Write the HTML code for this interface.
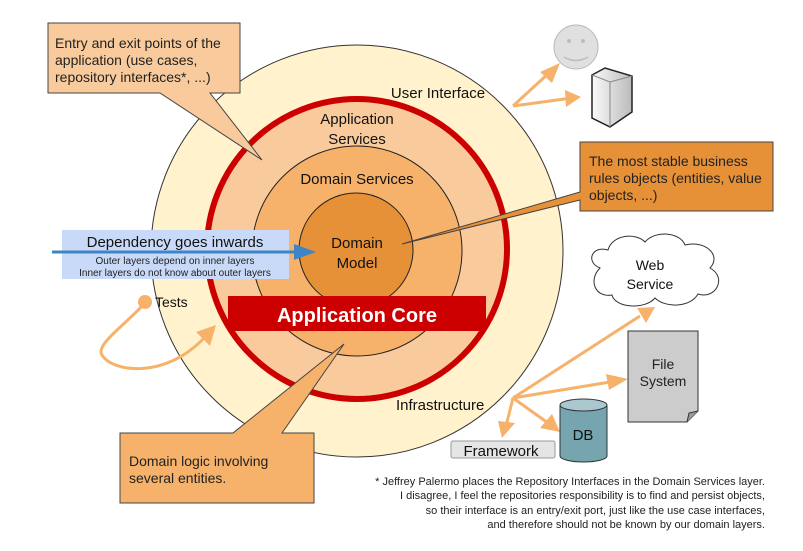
<!DOCTYPE html>
<html><head><meta charset="utf-8"><style>
html,body{margin:0;padding:0;background:#fff;}
svg{display:block;font-family:"Liberation Sans",Arial,sans-serif;}
</style></head><body>
<svg width="803" height="551" viewBox="0 0 803 551">
<defs>
<linearGradient id="sv" x1="0" x2="1"><stop offset="0" stop-color="#fafafa"/><stop offset="1" stop-color="#bbb"/></linearGradient>
</defs>
<circle cx="357" cy="251" r="206" fill="#fff2cc" stroke="#333" stroke-width="1"/>
<circle cx="357" cy="249" r="150" fill="#f9cb9c" stroke="#cc0000" stroke-width="6"/>
<circle cx="357" cy="251" r="105" fill="#f6b26b" stroke="#222" stroke-width="1"/>
<circle cx="356" cy="250" r="57" fill="#e69138" stroke="#222" stroke-width="1"/>

<text x="438" y="98" font-size="15" text-anchor="middle" fill="#111">User Interface</text>
<text x="357" y="124" font-size="15" text-anchor="middle" fill="#111">Application</text>
<text x="357" y="144" font-size="15" text-anchor="middle" fill="#111">Services</text>
<text x="357" y="184" font-size="15" text-anchor="middle" fill="#111">Domain Services</text>
<text x="357" y="248" font-size="15" text-anchor="middle" fill="#111">Domain</text>
<text x="357" y="268" font-size="15" text-anchor="middle" fill="#111">Model</text>
<text x="396" y="410" font-size="15" fill="#111">Infrastructure</text>

<rect x="228" y="296" width="258" height="35" fill="#cc0000"/>
<text x="357" y="322" font-size="20" font-weight="bold" text-anchor="middle" fill="#fff">Application Core</text>

<path d="M48,23 H240 V93 H210 L262,160 L160,93 H48 Z" fill="#f9cb9c" stroke="#444" stroke-width="1"/>
<text font-size="14" fill="#222"><tspan x="55" y="48">Entry and exit points of the</tspan><tspan x="55" y="65">application (use cases,</tspan><tspan x="55" y="82">repository interfaces*, ...)</tspan></text>

<path d="M580,142 H773 V211 H580 V200 L402,244 L580,192 Z" fill="#e69138" stroke="#444" stroke-width="1"/>
<text font-size="14" fill="#222"><tspan x="589" y="166">The most stable business</tspan><tspan x="589" y="183">rules objects (entities, value</tspan><tspan x="589" y="200">objects, ...)</tspan></text>

<path d="M120,433 H233 L344,344 L282,433 H314 V503 H120 Z" fill="#f6b26b" stroke="#444" stroke-width="1"/>
<text font-size="14" fill="#222"><tspan x="129" y="466">Domain logic involving</tspan><tspan x="129" y="483">several entities.</tspan></text>

<rect x="62" y="230" width="227" height="49" fill="#c9daf8"/>
<text x="175" y="247" font-size="15" text-anchor="middle" fill="#111">Dependency goes inwards</text>
<line x1="52" y1="252" x2="296" y2="252" stroke="#3d85c6" stroke-width="3"/>
<path d="M294,244 L316,252 L294,260 Z" fill="#3d85c6"/>
<text x="175" y="264" font-size="10" text-anchor="middle" fill="#222">Outer layers depend on inner layers</text>
<text x="175" y="276" font-size="10" text-anchor="middle" fill="#222">Inner layers do not know about outer layers</text>

<path d="M145,303 C125,325 95,345 102,355 C112,372 165,380 205,337" fill="none" stroke="#f6b26b" stroke-width="3"/>
<path d="M196,332 L216,325 L210,346 Z" fill="#f6b26b"/>
<circle cx="145" cy="302" r="7" fill="#f6b26b"/>
<text x="155" y="307" font-size="14" fill="#111">Tests</text>

<g stroke="#f6b26b" stroke-width="3" fill="none"><line x1="513" y1="106" x2="550" y2="72"/><line x1="513" y1="106" x2="572" y2="98"/></g>
<path d="M540,72 L560,63 L552,83 Z" fill="#f6b26b"/>
<path d="M565,90 L581,97 L566,107 Z" fill="#f6b26b"/>
<circle cx="576" cy="47" r="22" fill="#e0e0e0" stroke="#bbb"/>
<circle cx="569" cy="41" r="2" fill="#bbb"/><circle cx="583" cy="41" r="2" fill="#bbb"/>
<path d="M564,57 Q576,64 588,57" fill="none" stroke="#bbb" stroke-width="1.5"/>
<path d="M592,75 L605,68 L632,76 L632,112 L610,127 L592,118 Z" fill="url(#sv)" stroke="#222" stroke-width="1.5"/>
<path d="M592,75 L610,82 L632,76 M610,82 L610,127" stroke="#888" fill="none"/>

<path d="M600,268 C585,262 592,245 608,250 C612,235 635,232 645,242 C655,230 680,232 685,245 C705,240 722,255 710,268 C728,278 715,300 698,294 C690,308 665,308 655,298 C645,310 615,308 612,295 C595,298 588,280 600,268 Z" fill="#fff" stroke="#333"/>
<text x="650" y="270" font-size="14" text-anchor="middle" fill="#111">Web</text>
<text x="650" y="289" font-size="14" text-anchor="middle" fill="#111">Service</text>

<g stroke="#f6b26b" stroke-width="3" fill="none">
<line x1="513" y1="398" x2="640" y2="316"/>
<line x1="513" y1="398" x2="610" y2="382"/>
<line x1="513" y1="398" x2="548" y2="423"/>
<line x1="513" y1="398" x2="506" y2="426"/>
</g>
<path d="M637,308 L655,307 L646,323 Z" fill="#f6b26b"/>
<path d="M606,374 L628,379 L609,390 Z" fill="#f6b26b"/>
<path d="M540,428 L560,432 L552,414 Z" fill="#f6b26b"/>
<path d="M498,421 L515,423 L502,438 Z" fill="#f6b26b"/>

<path d="M628,331 H698 V411 L687,422 H628 Z" fill="#ccc" stroke="#333"/>
<path d="M687,422 L689,413 L698,411" fill="#999" stroke="#333"/>
<text x="663" y="369" font-size="14" text-anchor="middle" fill="#222">File</text>
<text x="663" y="386" font-size="14" text-anchor="middle" fill="#222">System</text>

<path d="M560,405 V456 A23.5,6 0 0 0 607,456 V405" fill="#76a5af" stroke="#333"/>
<ellipse cx="583.5" cy="405" rx="23.5" ry="6" fill="#a9c8cf" stroke="#333"/>
<text x="583" y="440" font-size="15" text-anchor="middle" fill="#111">DB</text>

<rect x="451" y="441" width="104" height="17" rx="2" fill="#e5e5e5" stroke="#999"/>
<text x="501" y="456" font-size="15" text-anchor="middle" fill="#111">Framework</text>

<g font-size="11" text-anchor="end" fill="#222">
<text x="765" y="485">* Jeffrey Palermo places the Repository Interfaces in the Domain Services layer.</text>
<text x="765" y="499">I disagree, I feel the repositories responsibility is to find and persist objects,</text>
<text x="765" y="514">so their interface is an entry/exit port, just like the use case interfaces,</text>
<text x="765" y="528">and therefore should not be known by our domain layers.</text>
</g>
</svg>
</body></html>
